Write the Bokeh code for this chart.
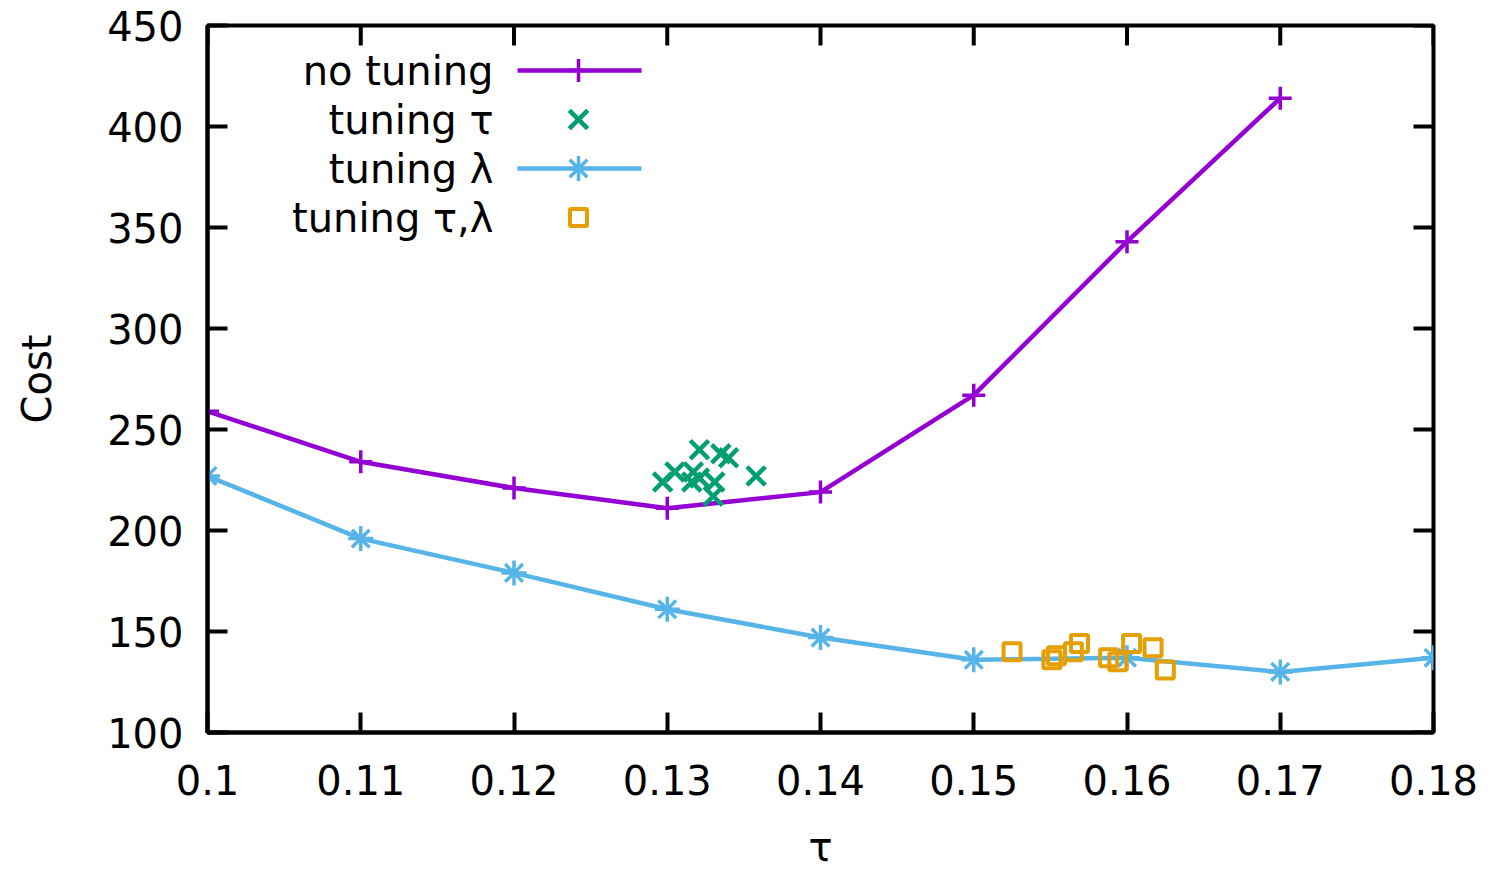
from bokeh.plotting import figure
from bokeh.models import Range1d, FixedTicker, LinearAxis
from bokeh.core.properties import value
from bokeh.embed import file_html
from bokeh.resources import INLINE

# ---- data ----
tau_grid = [0.10, 0.11, 0.12, 0.13, 0.14, 0.15, 0.16, 0.17]
cost_no_tuning = [259, 234, 221, 211, 219, 267, 343, 414]

tau_grid_lam = [0.10, 0.11, 0.12, 0.13, 0.14, 0.15, 0.16, 0.17, 0.18]
cost_tuning_lam = [227, 196, 179, 161, 147, 136, 137, 130, 137]

tau_tuned = [0.1297, 0.1305, 0.1317, 0.1321, 0.1321, 0.1335, 0.1340, 0.1358, 0.1316, 0.1331, 0.1330]
cost_tuning_tau = [224, 229, 229, 240, 226, 238, 236, 227, 224, 224, 217]

tau_tuned2 = [0.1525, 0.1551, 0.1554, 0.1565, 0.1569, 0.1588, 0.1594, 0.1603, 0.1617, 0.1625]
cost_tuning_tau_lam = [140, 136, 138, 140, 144, 137, 135, 144, 142, 131]

x_ticks = [0.10, 0.11, 0.12, 0.13, 0.14, 0.15, 0.16, 0.17, 0.18]
x_tick_labels = ["0.1", "0.11", "0.12", "0.13", "0.14", "0.15", "0.16", "0.17", "0.18"]
y_ticks = [100, 150, 200, 250, 300, 350, 400, 450]

legend_labels = ["no tuning", "tuning τ", "tuning λ", "tuning τ,λ"]
x_axis_title = "τ"
y_axis_title = "Cost"

PURPLE = "#9400D3"
GREEN = "#009E73"
BLUE = "#56B4E9"
ORANGE = "#E69F00"
FONT = "DejaVu Sans"
FS = "40px"
LW = 4.5

X0, X1, Y0, Y1 = 0.1, 0.18, 100, 450
FL, FR, FT, FB = 207.0, 1433.0, 25.0, 732.0
W, H = 1493, 872

p = figure(width=W, height=H, output_backend="svg", toolbar_location=None,
           x_range=Range1d(X0, X1), y_range=Range1d(Y0, Y1),
           min_border_left=int(FL), min_border_right=int(W - FR), min_border_top=int(FT),
           min_border_bottom=int(H - FB),
           x_axis_location=None, y_axis_location=None)
p.grid.visible = False
p.outline_line_color = "black"
p.outline_line_width = 4
p.background_fill_color = "white"

def style_axis(ax):
    ax.axis_line_width = 4
    ax.axis_line_color = "black"
    ax.major_tick_line_width = 4
    ax.major_tick_line_color = "black"
    ax.major_tick_in = 20
    ax.major_tick_out = 0
    ax.minor_tick_line_color = None
    ax.major_label_text_font = FONT
    ax.major_label_text_font_size = FS
    ax.major_label_text_color = "black"
    ax.axis_label_text_font = FONT
    ax.axis_label_text_font_size = FS
    ax.axis_label_text_font_style = "normal"
    ax.axis_label_text_color = "black"

xb = LinearAxis(ticker=FixedTicker(ticks=x_ticks),
                major_label_overrides={t: l for t, l in zip(x_ticks, x_tick_labels)})
style_axis(xb)
xb.major_label_standoff = 32
xb.axis_label = x_axis_title
xb.axis_label_standoff = 26
p.add_layout(xb, "below")

yl = LinearAxis(ticker=FixedTicker(ticks=y_ticks))
style_axis(yl)
yl.major_label_standoff = 24
yl.axis_label = y_axis_title
yl.axis_label_standoff = 44
p.add_layout(yl, "left")

# mirrored inward ticks on top and right edges
tick_dy = 20 * (Y1 - Y0) / (FB - FT)
tick_dx = 20 * (X1 - X0) / (FR - FL)
p.segment(x0=x_ticks, y0=[Y1] * len(x_ticks), x1=x_ticks, y1=[Y1 - tick_dy] * len(x_ticks),
          line_color="black", line_width=4)
p.segment(x0=[X1] * len(y_ticks), y0=y_ticks, x1=[X1 - tick_dx] * len(y_ticks), y1=y_ticks,
          line_color="black", line_width=4)

# ---- data series ----
S_CROSS, S_X, S_AST, S_SQ = 23, 26, 25, 17

p.line(tau_grid, cost_no_tuning, line_color=PURPLE, line_width=LW)
p.scatter(tau_grid, cost_no_tuning, marker="cross", size=S_CROSS, line_color=PURPLE, line_width=3.5)

p.scatter(tau_tuned, cost_tuning_tau, marker="x", size=S_X, line_color=GREEN, line_width=4.5)

p.line(tau_grid_lam, cost_tuning_lam, line_color=BLUE, line_width=LW)
p.scatter(tau_grid_lam, cost_tuning_lam, marker="asterisk", size=S_AST, line_color=BLUE, line_width=3.5)

p.scatter(tau_tuned2, cost_tuning_tau_lam, marker="square", size=S_SQ, fill_color=None,
          line_color=ORANGE, line_width=4)

# ---- legend (drawn manually: label left of sample, as in the reference) ----
def dx(px):
    return X0 + (px - FL) / (FR - FL) * (X1 - X0)
def dy(py):
    return Y1 - (py - FT) / (FB - FT) * (Y1 - Y0)

rows = [70, 119, 168, 217]
p.text([dx(493)] * 4, [dy(r) for r in rows], text=legend_labels, text_align="right",
       text_baseline="middle", text_font=value(FONT), text_font_size=FS, text_color="black")
p.line([dx(517), dx(641)], [dy(rows[0])] * 2, line_color=PURPLE, line_width=LW)
p.scatter([dx(578)], [dy(rows[0])], marker="cross", size=S_CROSS, line_color=PURPLE, line_width=3.5)
p.scatter([dx(578)], [dy(rows[1])], marker="x", size=S_X, line_color=GREEN, line_width=4.5)
p.line([dx(517), dx(641)], [dy(rows[2])] * 2, line_color=BLUE, line_width=LW)
p.scatter([dx(578)], [dy(rows[2])], marker="asterisk", size=S_AST, line_color=BLUE, line_width=3.5)
p.scatter([dx(578)], [dy(rows[3])], marker="square", size=S_SQ, fill_color=None,
          line_color=ORANGE, line_width=4)

open("out.html", "w").write(file_html(p, INLINE))
